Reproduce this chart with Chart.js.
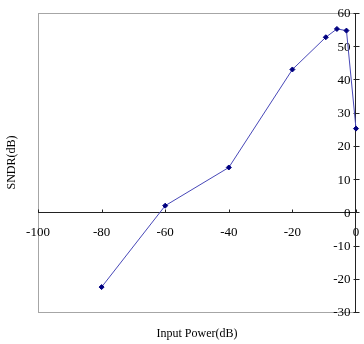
<!DOCTYPE html>
<html>
<head>
<meta charset="utf-8">
<title>SNDR vs Input Power</title>
<script src="https://cdn.jsdelivr.net/npm/chart.js@4/dist/chart.umd.min.js"></script>
<style>
  body { margin: 0; background: #fff; }
</style>
</head>
<body>
<canvas id="grafico" width="364" height="344"></canvas>
<script>
// Datos
const potenciaEntrada = [-80, -60, -40, -20, -9.5, -6, -3, 0]
const sndr = [-22.5, 2, 13.5, 43, 52.7, 55.2, 54.7, 25.2]
const marcasX = [-100, -80, -60, -40, -20, 0]
const marcasY = [-30, -20, -10, 0, 10, 20, 30, 40, 50, 60]
const tituloX = 'Input Power(dB)'
const tituloY = 'SNDR(dB)'

const fuenteMarcas = '13px "Liberation Serif", "Times New Roman", serif'
const fuenteTitulos = '12px "Liberation Serif", "Times New Roman", serif'

// Marco gris y ejes que cruzan en (0, 0)
const ejes = {
  id: 'ejes',
  beforeDraw(chart) {
    const { ctx, chartArea: a } = chart
    ctx.save()
    ctx.fillStyle = '#fff'
    ctx.fillRect(0, 0, chart.width, chart.height)
    ctx.strokeStyle = '#a6a6a6'
    ctx.lineWidth = 1
    ctx.strokeRect(a.left + 0.5, a.top + 0.5, a.right - a.left - 1, a.bottom - a.top)
    ctx.restore()
  },
  beforeDatasetsDraw(chart) {
    const { ctx, chartArea: a, scales } = chart
    const x0 = Math.round(scales.x.getPixelForValue(0)) - 0.5
    const y0 = Math.round(scales.y.getPixelForValue(0)) + 0.5
    ctx.save()
    ctx.strokeStyle = '#222'
    ctx.fillStyle = '#000'
    ctx.lineWidth = 1
    ctx.font = fuenteMarcas

    // eje X
    ctx.beginPath()
    ctx.moveTo(a.left, y0)
    ctx.lineTo(x0, y0)
    marcasX.forEach((v) => {
      const px = Math.round(scales.x.getPixelForValue(v)) + 0.5
      ctx.moveTo(px, y0 - 3)
      ctx.lineTo(px, y0)
    })
    ctx.stroke()
    ctx.textAlign = 'center'
    ctx.textBaseline = 'middle'
    marcasX.forEach((v) => {
      ctx.fillText(String(v), scales.x.getPixelForValue(v), y0 + 20)
    })

    // eje Y
    ctx.beginPath()
    ctx.moveTo(x0, a.top)
    ctx.lineTo(x0, a.bottom + 1)
    marcasY.forEach((v) => {
      const py = Math.round(scales.y.getPixelForValue(v)) + 0.5
      ctx.moveTo(x0 - 2, py)
      ctx.lineTo(x0 + 4, py)
    })
    ctx.stroke()
    ctx.textAlign = 'right'
    marcasY.forEach((v) => {
      ctx.fillText(String(v), x0 - 5, scales.y.getPixelForValue(v) + 1)
    })
    ctx.restore()
  },
  afterDraw(chart) {
    const { ctx, chartArea: a } = chart
    ctx.save()
    ctx.fillStyle = '#000'
    ctx.font = fuenteTitulos
    ctx.textAlign = 'center'
    ctx.textBaseline = 'middle'
    ctx.fillText(tituloX, (a.left + a.right) / 2, 334)
    ctx.translate(12, (a.top + a.bottom) / 2)
    ctx.rotate(-Math.PI / 2)
    ctx.fillText(tituloY, 0, 0)
    ctx.restore()
  },
}

new Chart(document.getElementById('grafico'), {
  type: 'line',
  data: {
    datasets: [
      {
        data: potenciaEntrada.map((x, i) => ({ x, y: sndr[i] })),
        borderColor: '#4848b8',
        borderWidth: 1,
        pointStyle: 'rectRot',
        pointRadius: 2.5,
        pointBackgroundColor: '#000080',
        pointBorderColor: '#000080',
        pointBorderWidth: 1,
        tension: 0,
        fill: false,
        clip: false,
      },
    ],
  },
  options: {
    responsive: false,
    animation: false,
    devicePixelRatio: 1,
    layout: { padding: { left: 38, right: 8, top: 13, bottom: 32 } },
    plugins: { legend: { display: false }, tooltip: { enabled: false } },
    scales: {
      x: { type: 'linear', min: -100, max: 0, display: false },
      y: { type: 'linear', min: -30, max: 60, display: false },
    },
  },
  plugins: [ejes],
})
</script>
</body>
</html>
